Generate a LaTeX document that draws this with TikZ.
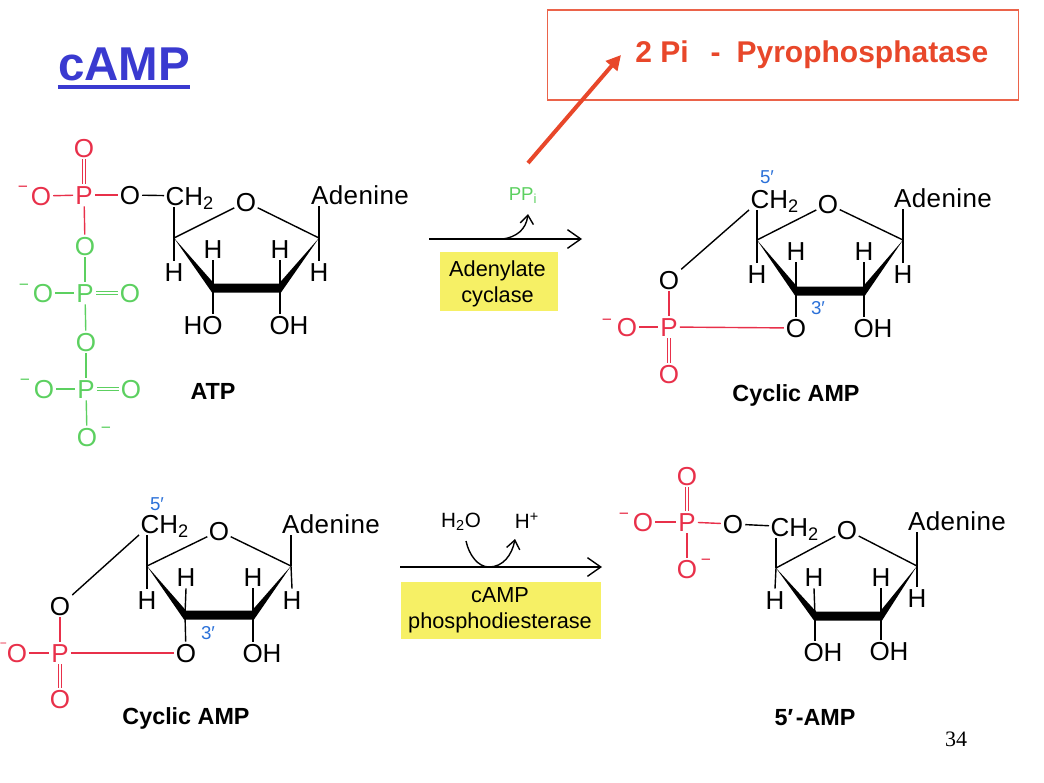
\documentclass[tikz,border=0pt]{standalone}
\usepackage{fontspec}
\setmainfont{Liberation Sans}
\newfontfamily\serifnum{Liberation Serif}
\usetikzlibrary{arrows.meta}
\definecolor{molred}{HTML}{E8304A}
\definecolor{molgreen}{HTML}{5CD060}
\definecolor{molblue}{HTML}{2A70D8}
\definecolor{hiyellow}{HTML}{F6F065}
\definecolor{slideorange}{HTML}{E8472A}
\definecolor{slideblue}{HTML}{3A3AD0}
\tikzset{
  lab/.style={font=\fontsize{19.5}{19.5}\selectfont, inner sep=1.4pt, text height=14pt, text depth=0pt, text=black},
  redlab/.style={lab, text=molred},
  greenlab/.style={lab, text=molgreen},
  chtwo/.style={lab, anchor=west, inner sep=1pt},
  aden/.style={lab, font=\fontsize{19.5}{19.5}\selectfont\addfontfeature{LetterSpace=1.5}},
  hlab/.style={lab},
  minuslab/.style={font=\fontsize{13}{13}\selectfont, inner sep=0pt, yshift=-1.5pt},
  primelab/.style={font=\fontsize{14}{14}\selectfont, text=molblue, inner sep=0pt},
  molname/.style={font=\bfseries\fontsize{17.5}{17.5}\selectfont, inner sep=0pt},
  smalllab/.style={font=\fontsize{15.5}{15.5}\selectfont, inner sep=0pt},
  enzyme/.style={fill=hiyellow, inner sep=0pt},
  enzymetext/.style={font=\fontsize{16.3}{19.5}\selectfont, align=center, inner sep=0pt},
  bond/.style={line width=1.05pt, black},
  redbond/.style={line width=1.05pt, molred},
  greenbond/.style={line width=1.05pt, molgreen},
  dbl/.style={double, double distance=2pt, line width=0.85pt},
  react/.style={line width=1.05pt, -{Straight Barb[length=10pt,width=14pt,line width=1.05pt]}},
  curvearrow/.style={line width=1.05pt, -{Straight Barb[length=6.5pt,width=10pt,line width=1.05pt]}},
}
\newcommand{\ribosebonds}[1]{%
  \draw[bond] (#1c4) -- (#1o);
  \draw[bond] (#1o) -- (#1c1);
  \fill[black] (#1c4) -- ([shift={(1,-4.5)}]#1c3) -- ([shift={(-1,-4.5)}]#1c2) -- (#1c1)
     -- ([shift={(1,4.5)}]#1c2) -- ([shift={(-1,4.5)}]#1c3) -- cycle;
  \draw[bond] (#1c4) -- (#1c4 |- #1ch.south);
  \draw[bond] (#1c4) -- (#1h4.north);
  \draw[bond] (#1c3) -- (#1h3.south);
  \draw[bond] (#1c2) -- (#1h2.south);
  \draw[bond] (#1c1) -- (#1h1.north);
  \draw[bond] (#1c1) -- (#1c1 |- #1ad.south);
}
\begin{document}
\begin{tikzpicture}[x=0.75pt,y=-0.75pt]
\useasboundingbox (0,0) rectangle (1044,782);

% title and box
\node[font=\bfseries\fontsize{35.6}{36}\selectfont, text=slideblue, inner sep=0pt, text height=26pt, text depth=0pt] (title) at (124,63) {cAMP};
\draw[slideblue, line width=3pt] ([yshift=-5pt]title.south west) -- ([yshift=-5pt]title.south east);
\node[draw=slideorange!85!white, line width=0.8pt, minimum width=353.5pt, minimum height=67.5pt, inner sep=0pt] (box) at (783,55) {};
\node[font=\bfseries\fontsize{22.5}{24}\selectfont, text=slideorange, anchor=west, inner sep=0pt] (pyro) at (635,55) {2 Pi\hspace{16.5pt}-\hspace{12pt}Pyrophosphatase};
\coordinate (orstart) at (528,163);
\coordinate (orend) at (621,55);
\draw[slideorange, line width=3pt, -{Triangle[length=11pt,width=11pt]}] (orstart) -- (orend);

% ATP
\coordinate (ac4) at (174,238); \coordinate (ac1) at (319,238);
\coordinate (ac3) at (213,288); \coordinate (ac2) at (280,288);
\node[lab,inner sep=1pt] (ao) at (246,202) {O};
\node[chtwo] (ach) at (164,196) {CH\textsubscript{2}};
\node[aden] (aad) at (360,195) {Adenine};
\node[hlab] (ah4) at (174,272) {H};
\node[hlab] (ah3) at (213,249) {H};
\node[hlab] (ah2) at (280,249) {H};
\node[hlab] (ah1) at (319,272) {H};
\node[lab] (aho) at (203,325) {HO};
\node[lab] (aoh) at (289,325) {OH};
\ribosebonds{a}
\draw[bond] (ac3) -- (ac3 |- aho.north);
\draw[bond] (ac2) -- (ac2 |- aoh.north);
\node[molname] (atp) at (213,391) {ATP};

\node[redlab] (p1) at (84,195) {P};
\node[redlab] (p1t) at (84,148) {O};
\node[redlab] (p1l) at (41,196) {O};
\node[minuslab,text=molred] (p1m) at (23,187) {−};
\node[lab] (p1r) at (130,195) {O};
\node[greenlab] (o1) at (85,246) {O};
\node[greenlab] (p2) at (85,293) {P};
\node[greenlab] (p2l) at (43,293) {O};
\node[minuslab,text=molgreen] (p2m) at (24,285) {−};
\node[greenlab] (p2r) at (130,293) {O};
\node[greenlab] (o2) at (86,342) {O};
\node[greenlab] (p3) at (86,389) {P};
\node[greenlab] (p3l) at (44,389) {O};
\node[minuslab,text=molgreen] (p3m) at (25,380) {−};
\node[greenlab] (p3r) at (131,389) {O};
\node[greenlab] (p3b) at (87,437) {O};
\node[minuslab,text=molgreen] (p3bm) at (106,428) {−};
\draw[redbond,dbl] (p1) -- (p1t);
\draw[redbond] (p1l) -- (p1);
\draw[redbond] (p1) -- (p1r);
\draw[redbond] (p1) -- (o1);
\draw[bond] (p1r) -- (ach);
\draw[greenbond] (o1) -- (p2);
\draw[greenbond] (p2l) -- (p2);
\draw[greenbond,dbl] (p2) -- (p2r);
\draw[greenbond] (p2) -- (o2);
\draw[greenbond] (o2) -- (p3);
\draw[greenbond] (p3l) -- (p3);
\draw[greenbond,dbl] (p3) -- (p3r);
\draw[greenbond] (p3) -- (p3b);

% reaction 1
\coordinate (r1a) at (429,239); \coordinate (r1b) at (582,239); \coordinate (r1c) at (503,239); \coordinate (r1d) at (528,214);
\draw[react] (r1a) -- (r1b);
\draw[curvearrow] (r1c) .. controls (516,237) and (526,230) .. (r1d);
\node[smalllab,font=\fontsize{14}{14}\selectfont,text=molgreen] (ppi) at (523,196) {PP\textsubscript{i}};
\node[enzyme, minimum width=88.5pt, minimum height=44.5pt] (en1) at (499,281.5) {};
\node[enzymetext] (en1t) at (497.5,283.5) {Adenylate\\cyclase};

% Cyclic AMP top
\coordinate (bc4) at (757,240); \coordinate (bc1) at (903,240);
\coordinate (bc3) at (796,291); \coordinate (bc2) at (864,291);
\node[lab,inner sep=1pt] (bo) at (828,204) {O};
\node[chtwo] (bch) at (749,199) {CH\textsubscript{2}};
\node[aden] (bad) at (943,198) {Adenine};
\node[hlab] (bh4) at (757,274) {H};
\node[hlab] (bh3) at (796,251) {H};
\node[hlab] (bh2) at (864,251) {H};
\node[hlab] (bh1) at (903,274) {H};
\node[lab] (bo3) at (796,328) {O};
\node[lab] (boh) at (873,328) {OH};
\ribosebonds{b}
\draw[bond] (bc3) -- (bo3);
\draw[bond] (bc2) -- (bc2 |- boh.north);
\node[primelab] (b5) at (767,177) {5′};
\node[primelab] (b3) at (818,308) {3′};
\node[lab] (bo5) at (669,280) {O};
\node[redlab] (bp) at (669,327) {P};
\node[redlab] (bpl) at (627,327) {O};
\node[minuslab,text=molred] (bpm) at (607,320) {−};
\node[redlab] (bpb) at (669,374) {O};
\draw[bond] (bo5) -- (bch.south west);
\draw[redbond] (bo5) -- (bp);
\draw[redbond] (bpl) -- (bp);
\draw[redbond] (bp) -- (bo3);
\draw[redbond,dbl] (bp) -- (bpb);
\node[molname] (bname) at (796,395) {Cyclic AMP};

% Cyclic AMP bottom
\coordinate (cc4) at (147,566); \coordinate (cc1) at (291,566);
\coordinate (cc3) at (185,615); \coordinate (cc2) at (253,615);
\node[lab,inner sep=1pt] (co) at (219,531) {O};
\node[chtwo] (cch) at (139,524) {CH\textsubscript{2}};
\node[aden] (cad) at (331,524) {Adenine};
\node[hlab] (ch4) at (147,600) {H};
\node[hlab] (ch3) at (186,577) {H};
\node[hlab] (ch2) at (253,577) {H};
\node[hlab] (ch1) at (292,600) {H};
\node[lab] (co3) at (186,653) {O};
\node[lab] (coh) at (262,653) {OH};
\ribosebonds{c}
\draw[bond] (cc3) -- (co3);
\draw[bond] (cc2) -- (cc2 |- coh.north);
\node[primelab] (c5) at (157,504) {5′};
\node[primelab] (c3) at (208,633) {3′};
\node[lab] (co5) at (60,606) {O};
\node[redlab] (cp) at (60,653) {P};
\node[redlab] (cpl) at (17,653) {O};
\node[minuslab,font=\fontsize{9}{9}\selectfont,text=molred] (cpm) at (3.5,643) {−};
\node[redlab] (cpb) at (60,699) {O};
\draw[bond] (co5) -- (cch.south west);
\draw[redbond] (co5) -- (cp);
\draw[redbond] (cpl) -- (cp);
\draw[redbond] (cp) -- (co3);
\draw[redbond,dbl] (cp) -- (cpb);
\node[molname] (cname) at (186,718) {Cyclic AMP};

% reaction 2
\coordinate (r2a) at (400,567); \coordinate (r2b) at (602,567);
\coordinate (r2s) at (466,541); \coordinate (r2m) at (489,567); \coordinate (r2e) at (515,539);
\draw[react] (r2a) -- (r2b);
\draw[line width=1.05pt] (r2s) .. controls (469,555) and (478,567) .. (r2m);
\draw[curvearrow] (r2m) .. controls (503,567) and (512,555) .. (r2e);
\node[smalllab] (h2o) at (461,522) {H\textsubscript{2}O};
\node[smalllab] (hplus) at (527,521) {H\textsuperscript{+}};
\node[enzyme, minimum width=150pt, minimum height=43pt] (en2) at (501,610.5) {};
\node[enzymetext] (en2t) at (500,610.5) {cAMP\\phosphodiesterase};

% 5'-AMP
\coordinate (dc4) at (776,568); \coordinate (dc1) at (917,566);
\coordinate (dc3) at (815,616); \coordinate (dc2) at (881,616);
\node[lab,inner sep=1pt] (do) at (847,530) {O};
\node[chtwo] (dch) at (769,527) {CH\textsubscript{2}};
\node[aden] (dad) at (957,521) {Adenine};
\node[hlab] (dh4) at (775,600) {H};
\node[hlab] (dh3) at (814,577) {H};
\node[hlab] (dh2) at (881,577) {H};
\node[hlab] (dh1) at (917,598) {H};
\node[lab] (doh1) at (823,652) {OH};
\node[lab] (doh2) at (889,651) {OH};
\ribosebonds{d}
\draw[bond] (dc3) -- (dc3 |- doh1.north);
\draw[bond] (dc2) -- (dc2 |- doh2.north);
\node[redlab] (dp) at (687,522) {P};
\node[redlab] (dpt) at (687,476) {O};
\node[redlab] (dpl) at (643,522) {O};
\node[minuslab,text=molred] (dpm) at (624,514) {−};
\node[redlab] (dpb) at (687,569) {O};
\node[minuslab,text=molred] (dpbm) at (706,560) {−};
\node[lab] (dpr) at (733,524) {O};
\draw[redbond,dbl] (dp) -- (dpt);
\draw[redbond] (dpl) -- (dp);
\draw[redbond] (dp) -- (dpb);
\draw[redbond] (dp) -- (dpr);
\draw[bond] (dpr) -- (dch);
\node[molname] (dname) at (815,718) {5′\hspace{2pt}-AMP};

\node[font=\serifnum\fontsize{16.5}{17}\selectfont, inner sep=0pt] (pg) at (956,739) {34};
\end{tikzpicture}
\end{document}
